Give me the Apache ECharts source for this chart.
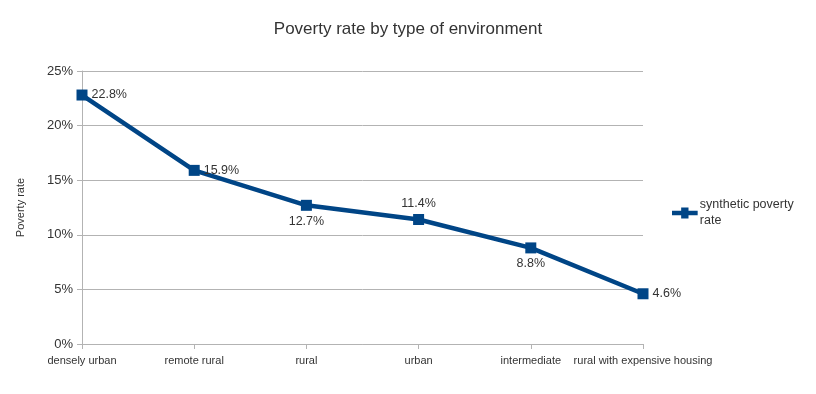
<!DOCTYPE html>
<html><head><meta charset="utf-8">
<script src="https://cdn.jsdelivr.net/npm/echarts@6/dist/echarts.min.js"></script>
<style>html,body{margin:0;padding:0;background:#fff}#c{width:816px;height:394px}</style>
</head><body><div id="c"></div>
<script>
const categories = ['densely urban','remote rural','rural','urban','intermediate','rural with expensive housing'];
const values = [22.8, 15.9, 12.7, 11.4, 8.8, 4.6];
const labelPositions = ['right','right','bottom','top','bottom','right'];
const yTicks = [0,5,10,15,20,25];
const seriesName = 'synthetic poverty\nrate';

const chart = echarts.init(document.getElementById('c'));
const font = 'Liberation Sans';
chart.setOption({
  animation:false,
  textStyle:{fontFamily:font},
  title:{text:'Poverty rate by type of environment',left:'center',top:16,
    textStyle:{fontFamily:font,fontSize:17,fontWeight:'normal',color:'#333'}},
  legend:{orient:'vertical',left:667,top:192,itemWidth:28,itemHeight:11,itemGap:4,
    data:[{name:seriesName,icon:'path://M0,3.5 L10,3.5 L10,0 L18,0 L18,3.5 L28,3.5 L28,8.5 L18,8.5 L18,12 L10,12 L10,8.5 L0,8.5 Z'}],
    textStyle:{fontFamily:font,fontSize:12.5,color:'#333',lineHeight:16,padding:[0,0,0,-4]}},
  grid:{left:82,right:173,top:71,bottom:50,containLabel:false},
  xAxis:{type:'category',data:categories,boundaryGap:false,
    axisLine:{lineStyle:{color:'#b3b3b3'}},
    axisTick:{show:true,length:5,lineStyle:{color:'#b3b3b3'},alignWithLabel:true},
    axisLabel:{fontFamily:font,fontSize:11,color:'#333',margin:11,interval:0},
    splitLine:{show:false}},
  yAxis:{type:'value',min:yTicks[0],max:yTicks[yTicks.length-1],interval:5,
    name:'Poverty rate',nameLocation:'middle',nameGap:56,nameRotate:90,
    nameTextStyle:{fontFamily:font,fontSize:11,color:'#333'},
    axisLine:{show:true,lineStyle:{color:'#b3b3b3'}},
    axisTick:{show:true,length:5,lineStyle:{color:'#b3b3b3'}},
    axisLabel:{fontFamily:font,fontSize:13,color:'#333',margin:9,formatter:v=>v+'%'},
    splitLine:{lineStyle:{color:'#b3b3b3'}}},
  series:[{name:seriesName,type:'line',
    data:values.map((v,i)=>({value:v,label:{position:labelPositions[i]}})),
    symbol:'rect',symbolSize:11,
    lineStyle:{color:'#004586',width:4.5},
    itemStyle:{color:'#004586'},
    label:{show:true,formatter:p=>p.value.toFixed(1)+'%',fontFamily:font,fontSize:12.5,color:'#333',distance:4}}]
});
</script></body></html>
